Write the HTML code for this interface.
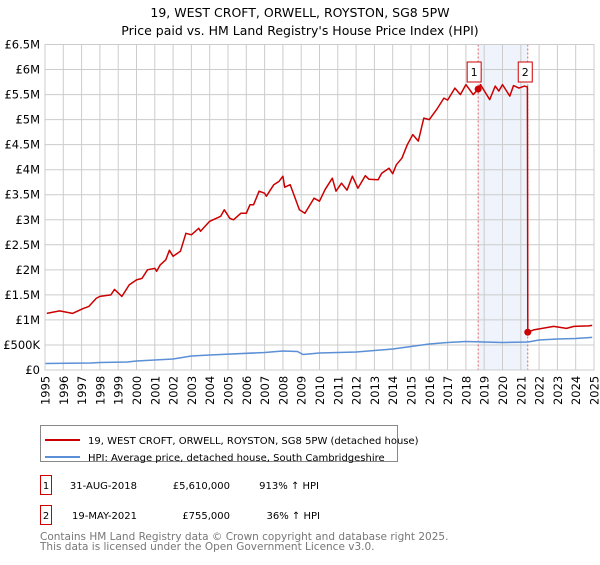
<!DOCTYPE html>
<html><head><meta charset="utf-8"><style>
body{margin:0;background:#fff;font-family:"Liberation Sans","DejaVu Sans",sans-serif;}
svg text{font-family:"DejaVu Sans","Liberation Sans",sans-serif;}
</style></head><body>
<svg id="chart" width="600" height="560" xmlns="http://www.w3.org/2000/svg">
<text x="300" y="17" text-anchor="middle" font-size="12.5">19, WEST CROFT, ORWELL, ROYSTON, SG8 5PW</text>
<text x="300" y="35" text-anchor="middle" font-size="12.5">Price paid vs. HM Land Registry's House Price Index (HPI)</text>
<g id="plot"></g>
<g>
<rect x="40.5" y="425.5" width="357" height="36" fill="#fff" stroke="#888"/>
<line x1="45" y1="440" x2="80" y2="440" stroke="#cc0000" stroke-width="2"/>
<text x="88" y="444" font-size="10">19, WEST CROFT, ORWELL, ROYSTON, SG8 5PW (detached house)</text>
<line x1="45" y1="457" x2="80" y2="457" stroke="#5b8fd6" stroke-width="2"/>
<text x="88" y="461" font-size="10">HPI: Average price, detached house, South Cambridgeshire</text>
</g>
<g font-size="10">
<rect x="40.5" y="475.5" width="11" height="19" fill="#fff" stroke="#cc0000"/>
<text x="46" y="489" text-anchor="middle">1</text>
<text x="137" y="489" text-anchor="end">31-AUG-2018</text>
<text x="230" y="489" text-anchor="end">£5,610,000</text>
<text x="319" y="489" text-anchor="end">913% ↑ HPI</text>
<rect x="40.5" y="505.5" width="11" height="19" fill="#fff" stroke="#cc0000"/>
<text x="46" y="519" text-anchor="middle">2</text>
<text x="137" y="519" text-anchor="end">19-MAY-2021</text>
<text x="230" y="519" text-anchor="end">£755,000</text>
<text x="320" y="519" text-anchor="end">36% ↑ HPI</text>
</g>
<text x="40" y="540" font-size="10.5" fill="#777">Contains HM Land Registry data © Crown copyright and database right 2025.</text>
<text x="40" y="550" font-size="10.5" fill="#777">This data is licensed under the Open Government Licence v3.0.</text>
</svg>
<script>
const propYears=[1995.1,1995.8,1996.5,1997.1,1997.4,1997.8,1998.0,1998.6,1998.8,1999.2,1999.6,2000.0,2000.3,2000.6,2001.0,2001.1,2001.3,2001.6,2001.8,2002.0,2002.4,2002.7,2003.0,2003.4,2003.5,2004.0,2004.6,2004.8,2005.1,2005.3,2005.7,2006.0,2006.2,2006.4,2006.7,2007.0,2007.1,2007.5,2007.8,2008.0,2008.1,2008.4,2008.9,2009.2,2009.7,2010.0,2010.3,2010.7,2010.9,2011.2,2011.5,2011.8,2012.1,2012.5,2012.7,2013.2,2013.4,2013.8,2014.0,2014.2,2014.5,2014.8,2015.1,2015.4,2015.7,2016.0,2016.4,2016.8,2017.0,2017.4,2017.7,2018.0,2018.4,2018.67,2018.8,2019.3,2019.6,2019.8,2020.0,2020.4,2020.6,2020.9,2021.2,2021.36,2021.38,2021.7,2022.8,2023.5,2023.9,2024.7,2024.9];
const propValues=[1.13,1.18,1.13,1.23,1.27,1.43,1.47,1.5,1.61,1.47,1.7,1.8,1.83,2.0,2.03,1.97,2.1,2.2,2.39,2.27,2.37,2.73,2.7,2.83,2.77,2.97,3.07,3.2,3.03,3.0,3.13,3.13,3.3,3.3,3.57,3.53,3.47,3.7,3.77,3.87,3.65,3.7,3.2,3.13,3.43,3.37,3.6,3.83,3.57,3.73,3.59,3.87,3.63,3.88,3.81,3.8,3.93,4.03,3.92,4.1,4.23,4.5,4.7,4.57,5.03,5.0,5.2,5.43,5.39,5.63,5.5,5.7,5.5,5.61,5.7,5.4,5.67,5.57,5.7,5.47,5.68,5.63,5.67,5.65,0.755,0.8,0.87,0.83,0.87,0.88,0.89];
const hpiYears=[1995,1997.5,1998,1999.5,2000,2002,2003,2004,2007,2008,2008.8,2009.1,2010,2012,2014,2015,2016,2017,2018,2020,2021.4,2022,2023,2024,2024.9];
const hpiValues=[0.13,0.14,0.15,0.16,0.18,0.22,0.28,0.3,0.35,0.38,0.37,0.31,0.34,0.36,0.42,0.47,0.52,0.55,0.57,0.55,0.56,0.6,0.62,0.63,0.65];
const saleYears=[2018.67,2021.38];
const saleValues=[5.61,0.755];
const saleLabels=["1","2"];
const yTicks=[0,0.5,1,1.5,2,2.5,3,3.5,4,4.5,5,5.5,6,6.5];
const yTickLabels=["£0","£500K","£1M","£1.5M","£2M","£2.5M","£3M","£3.5M","£4M","£4.5M","£5M","£5.5M","£6M","£6.5M"];
const xTicks=[1995,1996,1997,1998,1999,2000,2001,2002,2003,2004,2005,2006,2007,2008,2009,2010,2011,2012,2013,2014,2015,2016,2017,2018,2019,2020,2021,2022,2023,2024,2025];

const L=45,R=594,T=44.5,B=370;
const xs=y=>L+(y-1995)/30*(R-L);
const ys=v=>B-v/6.5*(B-T);
const NS="http://www.w3.org/2000/svg";
const g=document.getElementById('plot');
function mk(t,a){const e=document.createElementNS(NS,t);for(const k in a)e.setAttribute(k,a[k]);g.appendChild(e);return e;}

let band=mk('rect',{x:xs(saleYears[0]),y:T,width:xs(saleYears[1])-xs(saleYears[0]),height:B-T,fill:'#eef3fc'});


yTicks.forEach((v,i)=>{
 let l=mk('line',{x1:L,x2:R,y1:ys(v),y2:ys(v),stroke:'#ccc','stroke-width':1});
 
 
 let t=mk('text',{x:40,y:ys(v)+4,'text-anchor':'end','font-size':'11.5'});
 t.textContent=yTickLabels[i];
 
 
});
xTicks.forEach(y=>{
 let l=mk('line',{x1:xs(y),x2:xs(y),y1:T,y2:B,stroke:'#ccc','stroke-width':1});
 
 
 const s=String(y), ox=(xs(y)+4.5).toFixed(1);
 const xl=[],yl=[];
 for(let i=0;i<s.length;i++){xl.push(ox);yl.push((405-i*7.3).toFixed(1));}
 let t=mk('text',{x:xl.join(' '),y:yl.join(' '),rotate:'-90','font-size':'11.5'});
 t.textContent=s;
 
 
});
saleYears.forEach((y,i)=>{
 let l=mk('line',{x1:xs(y),x2:xs(y),y1:T,y2:B,stroke:'#e06060','stroke-width':1,'stroke-dasharray':'2,2'});
 
 
});
function path(xa,va,color,name){
 let d=xa.map((x,i)=>(i?'L':'M')+xs(x).toFixed(1)+','+ys(va[i]).toFixed(1)).join('');
 let p=mk('path',{d:d,fill:'none',stroke:color,'stroke-width':1.5,'stroke-linejoin':'round'});
 
 
}
path(hpiYears,hpiValues,'#5b8fd6','hpi-line');
path(propYears,propValues,'#cc0000','property-line');
saleYears.forEach((y,i)=>{
 let c=mk('circle',{cx:xs(y),cy:ys(saleValues[i]),r:3.5,fill:'#cc0000'});
 
 
 let cx=xs(y)-(i===0?4:2.5);
 let r=mk('rect',{x:cx-7,y:62,width:14,height:20,fill:'#fff',stroke:'#cc0000'});
 
 
 let t=mk('text',{x:cx,y:76,'text-anchor':'middle','font-size':'11'});
 t.textContent=saleLabels[i];
 
 
});
let ax=mk('rect',{x:L,y:T,width:R-L,height:B-T,fill:'none',stroke:'#ccc'});


</script>
</body></html>
